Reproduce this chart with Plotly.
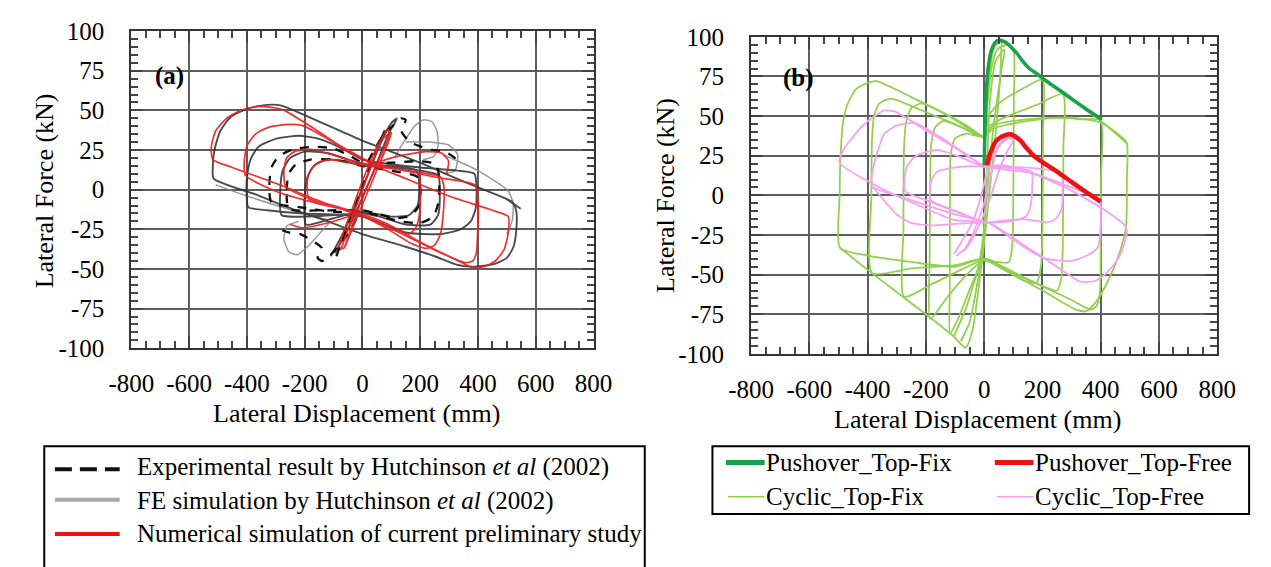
import plotly.graph_objects as go

W, H = 1271, 567
SERIF = "Liberation Serif, Times New Roman, serif"

# ---------------- axis ticks ----------------
x_tick_vals = [-800, -600, -400, -200, 0, 200, 400, 600, 800]
x_tick_text = ["-800", "-600", "-400", "-200", "0", "200", "400", "600", "800"]
y_tick_vals = [-100, -75, -50, -25, 0, 25, 50, 75, 100]
y_tick_text = ["-100", "-75", "-50", "-25", "0", "25", "50", "75", "100"]

# ---------------- panel (a): displacement (mm), force (kN) ----------------
# FE simulation by Hutchinson et al (2002)
fe_loop_1 = [(-515, 7), (-518, 14), (-512, 25), (-492, 37), (-455, 46), (-400, 51), (-330, 53.5),
             (-280, 53), (-200, 47), (-100, 39), (0, 31), (100, 24), (200, 17), (300, 9), (420, 0),
             (520, -8), (533, -14), (533, -25), (523, -36), (500, -43), (455, -47), (390, -48.5),
             (330, -47.5), (250, -42), (150, -36), (0, -28), (-120, -20), (-230, -13), (-370, -3),
             (-515, 7)]
fe_tail = [(500, -6), (548, -12)]
fe_loop_2 = [(-395, -11), (-401, -2), (-398, 10), (-385, 20), (-360, 27), (-300, 32), (-220, 34),
             (-150, 32), (-60, 25), (0, 19), (60, 17), (200, 14), (330, 12), (388, 10), (395, 0),
             (392, -12), (375, -20), (340, -25), (270, -28), (150, -27), (50, -20), (0, -17),
             (-60, -16), (-200, -15), (-330, -13), (-395, -11)]
fe_loop_3 = [(-280, -16), (-284, 0), (-276, 12), (-250, 20), (-200, 24), (-120, 23), (-50, 19),
             (0, 16), (100, 14), (200, 12), (262, 9), (268, -4), (262, -16), (235, -22), (150, -22),
             (60, -17), (0, -15), (-100, -16), (-200, -17), (-280, -16)]
fe_loop_4 = [(-195, -22), (-201, -8), (-192, 7), (-168, 15), (-120, 19), (-60, 18), (0, 15),
             (100, 15), (188, 12), (197, 1), (191, -10), (162, -16), (100, -17), (0, -14),
             (-100, -18), (-195, -22)]
fe_core = [(-110, -42), (-60, -25), (-20, -8), (20, 10), (60, 28), (100, 42), (120, 45), (90, 35),
           (40, 12), (0, -5), (-50, -25), (-95, -40)]
fe_grey_1 = [(110, 20), (150, 32), (180, 40), (210, 44), (240, 43), (258, 37), (262, 28), (248, 21),
             (210, 19)]
fe_grey_2 = [(-110, -20), (-150, -28), (-190, -36), (-225, -41), (-255, -39), (-272, -31),
             (-262, -23), (-220, -20)]
fe_grey_3 = [(-508, 3), (-400, -4), (-260, -12), (-120, -19)]
fe_grey_4 = [(280, 22), (400, 12), (505, -1), (522, -9), (518, -20), (500, -28)]
fe_grey_5 = [(150, 30), (230, 30), (300, 28), (330, 22), (320, 12), (280, 10)]

# Experimental result by Hutchinson et al (2002)
exp_loop_1 = [(-315, -8), (-322, 3), (-315, 14), (-290, 21), (-240, 25.5), (-170, 27), (-100, 26),
              (-40, 21), (0, 17), (100, 17), (200, 18), (255, 16), (266, 7), (263, -8), (245, -17),
              (200, -21), (130, -20), (50, -16), (0, -14), (-100, -14), (-220, -11), (-315, -8)]
exp_loop_2 = [(-255, -12), (-262, 0), (-255, 10), (-230, 16), (-180, 19), (-110, 19), (-40, 17),
              (0, 15), (100, 12), (190, 8), (201, 0), (196, -10), (170, -16), (120, -18), (50, -15),
              (0, -13), (-120, -13), (-255, -12)]
exp_top = [(20, 18), (50, 28), (80, 36), (110, 41), (135, 45), (150, 44), (135, 37), (165, 30),
           (205, 27), (245, 25), (285, 24), (320, 20), (335, 16)]
exp_bottom = [(-20, -18), (-50, -28), (-85, -36), (-115, -42), (-140, -45), (-155, -43), (-140, -37),
              (-175, -32), (-215, -28), (-255, -27), (-300, -24)]
exp_core = [(-90, -42), (-50, -22), (0, 2), (45, 24), (85, 40)]

# Numerical simulation of current preliminary study
num_loop_1 = [(-30, -15), (-150, -7), (-300, 4), (-450, 14), (-518, 19), (-523, 27), (-508, 37),
              (-470, 45), (-420, 50), (-360, 52.5), (-300, 51.5), (-270, 50), (-180, 40), (-80, 28),
              (0, 20), (30, 16), (150, 7), (300, -4), (450, -13), (505, -17), (504, -28), (490, -38),
              (460, -45), (420, -48.5), (380, -49), (345, -46), (250, -38), (150, -29), (50, -20),
              (-30, -15)]
num_loop_2 = [(-30, -14), (-150, -9), (-300, -1), (-405, 9), (-409, 18), (-399, 28), (-370, 35),
              (-330, 39), (-270, 41), (-210, 40.5), (-130, 33), (-50, 24), (20, 18), (100, 14),
              (250, 8), (390, 3), (400, -5), (399, -28), (394, -40), (382, -45), (355, -46),
              (300, -42), (200, -33), (80, -21), (-30, -14)]
num_loop_3 = [(-30, -14), (-150, -8), (-265, 2), (-272, 12), (-262, 20), (-235, 24), (-180, 25.5),
              (-120, 23), (-50, 19), (20, 16), (150, 12), (270, 8), (282, 2), (280, -15), (270, -28),
              (250, -35), (220, -37), (170, -34), (80, -24), (-30, -14)]
num_loop_4 = [(-30, -14), (-100, -10), (-185, -6), (-191, 5), (-180, 12), (-155, 17), (-110, 19),
              (-50, 17), (20, 15), (120, 13), (195, 10), (201, 0), (198, -15), (185, -24),
              (160, -28), (100, -25), (-30, -14)]
num_core = [(-75, -38), (-40, -20), (0, 0), (40, 20), (85, 38), (95, 36), (50, 16), (0, -5),
            (-50, -30), (-65, -37), (-80, -36), (-35, -12), (10, 10), (60, 30), (100, 36), (90, 30),
            (40, 8), (-20, -18), (-60, -36)]
num_side_1 = [(30, 16), (120, 21), (220, 24), (275, 23), (298, 18), (292, 10)]
num_side_2 = [(-30, -16), (-120, -21), (-210, -24), (-250, -22)]

# ---------------- panel (b) ----------------
push_fix_x = [0, 2, 5, 9, 15, 24, 36, 50, 62, 78, 95, 115, 135, 155, 175, 200, 250, 300, 350, 403]
push_fix_y = [19, 35, 55, 70, 82, 91, 96, 98, 97.5, 96, 93, 89, 84, 80, 77.5, 74, 67.5, 61, 54.5, 48]
push_free_x = [10, 18, 28, 40, 55, 72, 90, 108, 125, 145, 170, 200, 250, 300, 350, 400]
push_free_y = [19, 25, 30, 34, 36.5, 38, 38.5, 37, 34.5, 30, 25, 21, 15, 8.5, 2, -4]

cyc_fix_env = [(0, 20), (8, 55), (20, 80), (35, 93), (55, 97), (75, 96), (100, 92), (150, 81),
               (200, 73), (270, 64), (400, 47), (489, 33)]
cyc_fix_core = [(60, 97), (55, 75), (40, 40), (20, 5), (0, -30), (-20, -60), (-40, -85), (-64, -96),
                (-104, -89), (-200, -75), (-300, -61), (-400, -47), (-495, -33)]
cyc_fix_core2 = [(-104, -89), (-60, -70), (-20, -45), (0, -20), (10, 20), (20, 60), (40, 85),
                 (70, 92), (60, 80), (30, 40), (10, 0), (-10, -40), (-50, -80), (-80, -92)]
cyc_fix_1 = [(0, 37), (10, 55), (25, 80), (45, 92), (80, 95), (100, 93), (102, 60), (100, 0),
             (97, -30), (85, -42), (40, -42), (0, -40), (-40, -55), (-90, -78), (-117, -87),
             (-118, -60), (-117, 0), (-115, 25), (-100, 36), (-60, 39), (0, 37)]
cyc_fix_2 = [(0, 37), (15, 50), (50, 58), (120, 66), (200, 73), (202, 40), (200, -20), (195, -45),
             (180, -55), (140, -54), (60, -46), (0, -41), (-60, -50), (-130, -65), (-185, -78),
             (-187, -40), (-185, 10), (-182, 32), (-168, 43), (-140, 47), (-80, 43), (0, 37)]
cyc_fix_3 = [(0, 37), (20, 44), (80, 50), (180, 57), (270, 64), (272, 30), (270, -30), (265, -52),
             (250, -60), (200, -57), (100, -49), (0, -41), (-80, -47), (-180, -56), (-275, -64),
             (-277, -20), (-275, 30), (-268, 46), (-250, 55), (-215, 58), (-150, 53), (-60, 44),
             (0, 37)]
cyc_fix_4 = [(0, 37), (30, 42), (120, 46), (250, 49), (330, 48), (400, 47.5), (401, 10), (400, -40),
             (397, -62), (385, -70), (365, -72), (300, -66), (150, -53), (0, -40), (-100, -44),
             (-250, -46), (-385, -49), (-387, 0), (-385, 35), (-378, 50), (-360, 58), (-320, 61),
             (-220, 54), (-100, 45), (0, 37)]
cyc_fix_5 = [(0, 37), (30, 44), (150, 48), (300, 49), (400, 46), (450, 40), (489, 33.5), (490, 10),
             (487, -20), (465, -36), (425, -54), (385, -67), (350, -73), (315, -72), (200, -60),
             (80, -48), (0, -40), (-100, -45), (-250, -42), (-400, -38), (-495, -33), (-496, 0),
             (-494, 20), (-485, 45), (-470, 57), (-440, 67), (-400, 71), (-370, 72), (-250, 62),
             (-120, 50), (0, 37)]

cyc_free_core = [(-104, -37), (-80, -30), (-40, -17), (-10, 0), (10, 15), (30, 25), (60, 33),
                 (85, 36), (100, 35), (80, 28), (50, 15), (20, -2), (-20, -20), (-60, -33), (-95, -38)]
cyc_free_core2 = [(-70, -35), (-40, -25), (0, -5), (20, 10), (45, 30), (70, 36), (95, 37),
                  (120, 34), (150, 28), (200, 21)]
cyc_free_1 = [(0, 18), (60, 19), (120, 17), (163, 15), (165, 5), (160, -6), (145, -13), (100, -16),
              (40, -17), (0, -17), (-80, -11), (-184, -3), (-186, 4), (-180, 10), (-160, 15),
              (-120, 17), (-50, 18.5), (0, 18)]
cyc_free_2 = [(0, 18), (80, 18), (180, 17), (265, 14), (269, 6), (265, -9), (245, -15), (216, -17),
              (136, -15), (60, -16), (0, -17), (-100, -10), (-200, -3), (-271, 2.6), (-273, 10),
              (-264, 18.6), (-240, 24), (-211, 26.6), (-157, 28.6), (-80, 24), (0, 18)]
cyc_free_3 = [(0, 18.6), (100, 17), (200, 12), (300, 5), (395, -2), (400, -10), (398, -25),
              (390, -33), (376, -35.4), (340, -39), (296, -41.4), (203, -39.4), (100, -28),
              (16, -17.4), (-100, -12), (-250, -3), (-384, 5.6), (-386, 12), (-377, 20.6),
              (-360, 31), (-344, 38.6), (-320, 42), (-291, 44.6), (-237, 45.6), (-157, 37.6),
              (-70, 27), (0, 18.6)]
cyc_free_4 = [(0, 18.6), (80, 16), (163, 14), (300, 3), (420, -10), (483, -19), (490, -23),
              (482, -30), (460, -40), (420, -49), (380, -54), (330, -54.4), (250, -45), (150, -33),
              (16, -17.4), (-104, -15.4), (-237, -5.4), (-380, 7), (-497, 20.6), (-488, 27),
              (-477, 30.6), (-450, 37), (-424, 42.6), (-395, 47.5), (-371, 50.6), (-344, 53.6),
              (-304, 52.6), (-200, 41), (-100, 30), (0, 18.6)]
cyc_free_low = [(0, -17), (-100, -18), (-180, -19), (-251, -17.4), (-300, -12), (-384, 5.6)]


def join(*loops):
    xs, ys = [], []
    for loop in loops:
        for x, y in loop:
            xs.append(x)
            ys.append(y)
        xs.append(None)
        ys.append(None)
    return xs, ys


def curve(loops, color, width, xa, ya, dash="solid", opacity=1.0):
    xs, ys = join(*loops)
    return go.Scatter(x=xs, y=ys, mode="lines", xaxis=xa, yaxis=ya, opacity=opacity,
                      line=dict(color=color, width=width, dash=dash, shape="spline", smoothing=0.6),
                      connectgaps=False, showlegend=False, hoverinfo="skip")


fig = go.Figure()

# panel (a)
fig.add_trace(curve([fe_grey_1, fe_grey_2, fe_grey_3, fe_grey_4, fe_grey_5], "#8a8a8a", 1.5, "x", "y", opacity=0.85))
fig.add_trace(curve([fe_loop_1, fe_tail, fe_loop_2, fe_loop_3, fe_loop_4, fe_core], "#2e2e2e", 1.9, "x", "y", opacity=0.85))
fig.add_trace(curve([exp_loop_1, exp_loop_2, exp_top, exp_bottom, exp_core], "#111111", 2.3, "x", "y", dash="dash"))
fig.add_trace(curve([num_loop_1, num_loop_2, num_loop_3, num_loop_4, num_core, num_side_1, num_side_2],
                    "#ee2020", 1.7, "x", "y", opacity=0.92))

# panel (b)
fig.add_trace(curve([cyc_fix_env, cyc_fix_core, cyc_fix_core2, cyc_fix_1, cyc_fix_2, cyc_fix_3,
                     cyc_fix_4, cyc_fix_5], "#92d050", 1.8, "x2", "y2"))
fig.add_trace(curve([cyc_free_core, cyc_free_core2, cyc_free_1, cyc_free_2, cyc_free_3, cyc_free_4,
                     cyc_free_low], "#f5a0f0", 1.8, "x2", "y2"))
fig.add_trace(go.Scatter(x=push_fix_x, y=push_fix_y, mode="lines", xaxis="x2", yaxis="y2",
                         line=dict(color="#15a24a", width=3.5, shape="spline", smoothing=0.6),
                         showlegend=False, hoverinfo="skip"))
fig.add_trace(go.Scatter(x=push_free_x, y=push_free_y, mode="lines", xaxis="x2", yaxis="y2",
                         line=dict(color="#ee1111", width=4.5, shape="spline", smoothing=0.6),
                         showlegend=False, hoverinfo="skip"))


def frame_axis(domain, vals, text, minor_dtick, anchor, standoff):
    return dict(domain=domain, range=[vals[0], vals[-1]], tickmode="array", tickvals=vals,
                ticktext=text, showgrid=True, gridcolor="#5e5e5e", gridwidth=1.8, zeroline=False,
                showline=True, linecolor="#333333", linewidth=2, mirror="allticks", ticks="inside",
                ticklen=12, tickwidth=1.8, tickcolor="#444444", ticklabelstandoff=standoff,
                minor=dict(dtick=minor_dtick, tick0=0, ticks="inside", ticklen=7, tickwidth=1.6,
                           tickcolor="#444444", showgrid=False),
                tickfont=dict(family=SERIF, size=25, color="black"), anchor=anchor, fixedrange=True)


def xd(a, b):
    return [a / W, b / W]


def yd(top, bottom):
    return [1 - bottom / H, 1 - top / H]


fig.update_layout(
    width=W, height=H, margin=dict(l=0, r=0, t=0, b=0),
    paper_bgcolor="white", plot_bgcolor="white", showlegend=False,
    font=dict(family=SERIF, color="black"),
    xaxis=frame_axis(xd(112, 590), x_tick_vals, x_tick_text, 50, "y", 12),
    yaxis=frame_axis(yd(19, 352), y_tick_vals, y_tick_text, 5, "x", 20),
    xaxis2=frame_axis(xd(753, 1235), x_tick_vals, x_tick_text, 50, "y2", 12),
    yaxis2=frame_axis(yd(25, 358), y_tick_vals, y_tick_text, 5, "x2", 20),
)


def ann(text, x, y, size=26, xanchor="center", angle=0):
    return dict(text=text, x=x / W, y=1 - y / H, xref="paper", yref="paper", xanchor=xanchor,
                yanchor="middle", showarrow=False, textangle=angle, align="left",
                font=dict(family=SERIF, size=size, color="black"))


def rect(x0, y0, x1, y1, **kw):
    return dict(type="rect", xref="paper", yref="paper", x0=x0 / W, x1=x1 / W,
                y0=1 - y1 / H, y1=1 - y0 / H, **kw)


def seg(x0, x1, y, color, width, dash="solid"):
    return dict(type="line", xref="paper", yref="paper", x0=x0 / W, x1=x1 / W,
                y0=1 - y / H, y1=1 - y / H, line=dict(color=color, width=width, dash=dash))


annotations = [
    ann("Lateral Displacement (mm)", 345, 420),
    ann("Lateral Force (kN)", 22, 187, angle=-90),
    ann("Lateral Displacement (mm)", 987, 427),
    ann("Lateral Force (kN)", 665, 192, angle=-90),
    ann("<b>(a)</b>", 152, 66, size=25),
    ann("<b>(b)</b>", 802, 68, size=25),
    ann("Experimental result by Hutchinson <i>et al</i> (2002)", 116, 477, size=25, xanchor="left"),
    ann("FE simulation by Hutchinson <i>et al</i> (2002)", 116, 512, size=25, xanchor="left"),
    ann("Numerical simulation of current preliminary study", 116, 547, size=25, xanchor="left"),
    ann("Pushover_Top-Fix", 766, 472, size=25, xanchor="left"),
    ann("Cyclic_Top-Fix", 766, 508, size=25, xanchor="left"),
    ann("Pushover_Top-Free", 1045, 472, size=25, xanchor="left"),
    ann("Cyclic_Top-Free", 1045, 508, size=25, xanchor="left"),
]

shapes = [
    rect(116, 22, 176, 86, fillcolor="white", line=dict(width=0), layer="between"),
    rect(757, 28, 830, 87, fillcolor="white", line=dict(width=0), layer="between"),
    rect(22, 455, 643, 640, line=dict(color="black", width=2), fillcolor="rgba(0,0,0,0)"),
    rect(713, 455, 1268, 526, line=dict(color="black", width=2), fillcolor="rgba(0,0,0,0)"),
    seg(33, 100, 479, "#111111", 4, dash="17px,8px"),
    seg(33, 100, 511, "#a8a8a8", 4),
    seg(33, 100, 547, "#ee1111", 4),
    seg(727, 767, 472, "#15a24a", 5),
    seg(729, 767, 508, "#92d050", 1.5),
    seg(1005, 1045, 472, "#ee1111", 5),
    seg(1007, 1045, 508, "#f5a0f0", 1.5),
]

fig.update_layout(annotations=annotations, shapes=shapes)
fig.write_html("out.html")
